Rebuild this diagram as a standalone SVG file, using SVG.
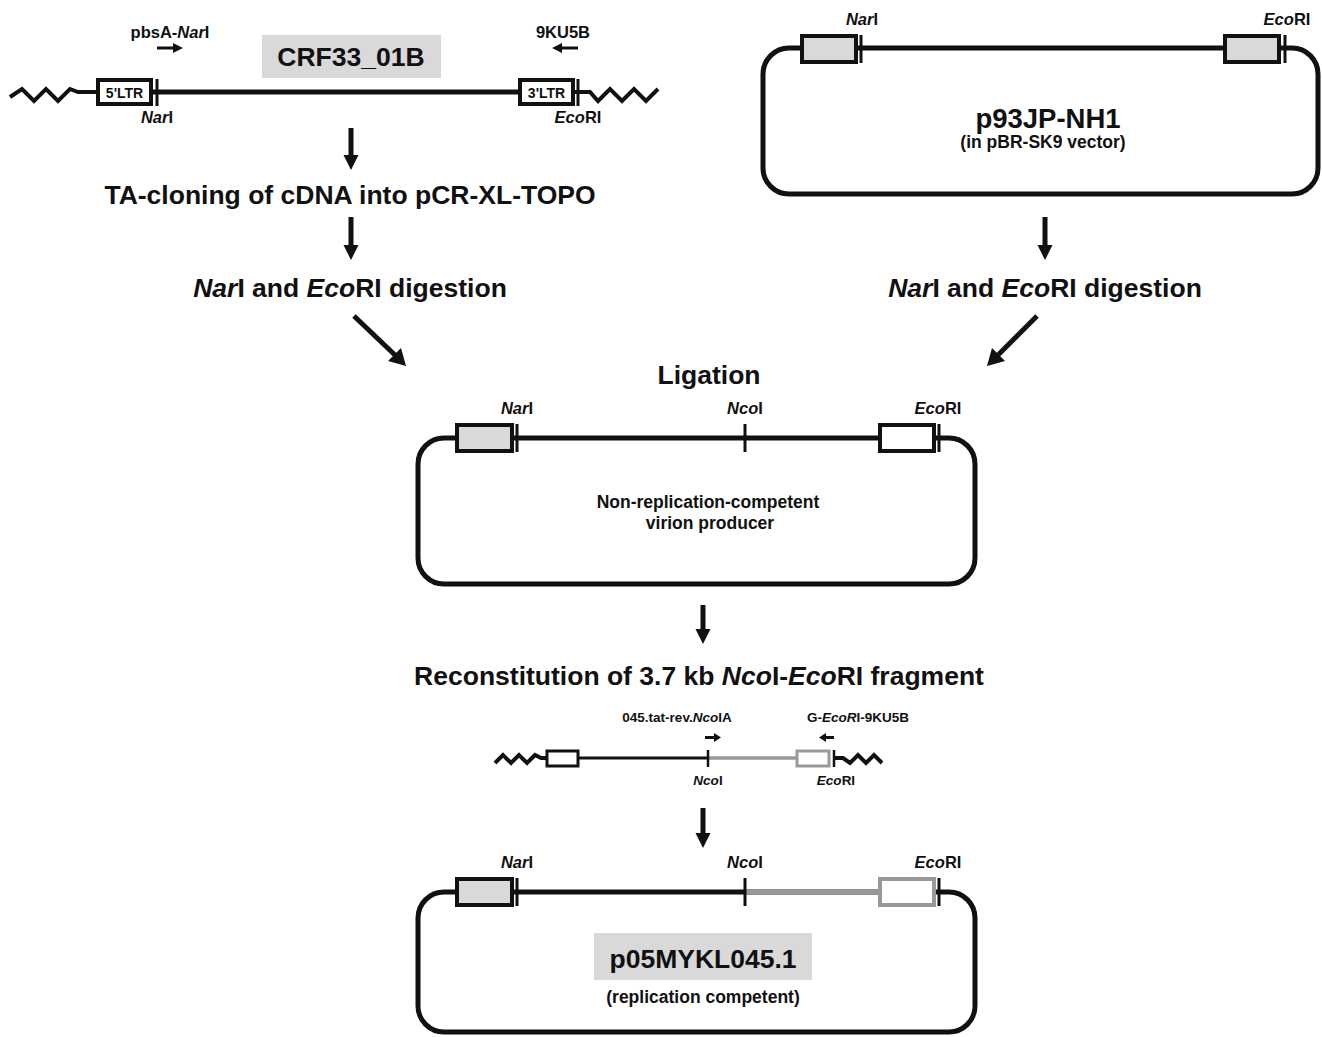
<svg xmlns="http://www.w3.org/2000/svg" width="1322" height="1037" viewBox="0 0 1322 1037">
<defs>
<style>
text{font-family:"Liberation Sans",Arial,sans-serif;font-weight:bold;fill:#111;text-anchor:middle}
.it{font-style:italic}
.big{font-size:26.5px}
.mid{font-size:17.5px}
.sub{font-size:17.5px}
.sm{font-size:16.5px}
.xs{font-size:13.5px}
.ln{stroke:#111;stroke-width:5;fill:none}
.gl{stroke:#999;stroke-width:5;fill:none}
.zz{stroke:#111;stroke-width:4;fill:none;stroke-linejoin:miter}
.bxg{fill:#d9d9d9;stroke:#111;stroke-width:4}
.bxw{fill:#fff;stroke:#111;stroke-width:4}
.bxgg{fill:#fff;stroke:#999;stroke-width:4}
.tk{stroke:#111;stroke-width:3}
.ar{fill:#111}
</style>
</defs>

<g id="crf33-genome">
<path class="zz" d="M10,97 L22,89 L34,101 L46,89 L58,101 L70,89 L78,92 L97,92"/>
<line class="ln" x1="152" y1="92" x2="520" y2="92"/>
<rect class="bxw" x="98" y="80" width="53" height="24"/>
<text x="124.5" y="97.5" font-size="14px">5'LTR</text>
<line class="tk" x1="157" y1="79" x2="157" y2="106"/>
<rect class="bxw" x="520" y="80" width="53" height="24"/>
<text x="546.5" y="97.5" font-size="14px">3'LTR</text>
<line class="tk" x1="578" y1="79" x2="578" y2="106"/>
<path class="zz" d="M573,92 L590,92 L598,101 L610,89 L622,101 L634,89 L646,101 L658,89"/>
<text class="sm" x="170" y="38">pbsA-<tspan class="it">Nar</tspan>I</text>
<path class="ar" d="M157,46.5 L173,46.5 L173,43 L183,48 L173,53 L173,49.5 L157,49.5 Z"/>
<text class="sm" x="563" y="38">9KU5B</text>
<path class="ar" d="M578,46.5 L562,46.5 L562,43 L552,48 L562,53 L562,49.5 L578,49.5 Z"/>
<text class="sm it" x="157" y="123">Nar<tspan font-style="normal">I</tspan></text>
<text class="sm" x="578" y="123"><tspan class="it">Eco</tspan>RI</text>
<rect x="262" y="35" width="179" height="43" fill="#d9d9d9"/>
<text x="351" y="66" font-size="26.5px">CRF33_01B</text>
</g>

<g id="p93JP-NH1">
<rect class="ln" x="763" y="48" width="555" height="146" rx="26"/>
<rect class="bxg" x="802" y="36" width="54" height="26"/>
<line class="tk" x1="861" y1="35" x2="861" y2="63"/>
<rect class="bxg" x="1225" y="36" width="54" height="26"/>
<line class="tk" x1="1285" y1="35" x2="1285" y2="63"/>
<text class="sm it" x="862" y="25">Nar<tspan font-style="normal">I</tspan></text>
<text class="sm" x="1287" y="25"><tspan class="it">Eco</tspan>RI</text>
<text x="1048" y="128" font-size="27.5px">p93JP-NH1</text>
<text class="sub" x="1043" y="148">(in pBR-SK9 vector)</text>
</g>

<g id="step-ta">
<text class="big" x="350" y="204">TA-cloning of cDNA into pCR-XL-TOPO</text>
</g>
<g id="step-digest-left">
<text class="big" x="350" y="297"><tspan class="it">Nar</tspan>I and <tspan class="it">Eco</tspan>RI digestion</text>
</g>
<g id="step-digest-right">
<text class="big" x="1045" y="297"><tspan class="it">Nar</tspan>I and <tspan class="it">Eco</tspan>RI digestion</text>
</g>
<g id="step-ligation">
<text class="big" x="709" y="384">Ligation</text>
</g>

<g id="ligation-plasmid">
<rect class="ln" x="418" y="438" width="557" height="146" rx="26"/>
<rect class="bxg" x="457" y="425" width="55" height="26"/>
<line class="tk" x1="517" y1="424" x2="517" y2="452"/>
<line class="tk" x1="745" y1="424" x2="745" y2="452"/>
<rect class="bxw" x="880" y="425" width="54" height="26"/>
<line class="tk" x1="939" y1="424" x2="939" y2="452"/>
<text class="sm it" x="517" y="414">Nar<tspan font-style="normal">I</tspan></text>
<text class="sm" x="745" y="414"><tspan class="it">Nco</tspan>I</text>
<text class="sm" x="938" y="414"><tspan class="it">Eco</tspan>RI</text>
<text class="mid" x="708" y="508">Non-replication-competent</text>
<text class="mid" x="710" y="529">virion producer</text>
</g>

<g id="step-reconstitution">
<text class="big" x="699" y="685">Reconstitution of 3.7 kb <tspan class="it">Nco</tspan>I-<tspan class="it">Eco</tspan>RI fragment</text>
</g>

<g id="fragment">
<path class="zz" d="M495,763 L503,755 L511,763 L519,755 L527,763 L535,755 L541,758 L547,758" stroke-width="3"/>
<line x1="578" y1="758" x2="708" y2="758" stroke="#111" stroke-width="3"/>
<line x1="708" y1="758" x2="797" y2="758" stroke="#999" stroke-width="3.5"/>
<rect x="547" y="751" width="31" height="15" fill="#fff" stroke="#111" stroke-width="3"/>
<rect x="797" y="751" width="32" height="15" fill="#fff" stroke="#999" stroke-width="3"/>
<line x1="708" y1="750" x2="708" y2="767" stroke="#111" stroke-width="2.5"/>
<line x1="834" y1="750" x2="834" y2="767" stroke="#111" stroke-width="2.5"/>
<path class="zz" d="M834,758 L843,758 L850,763 L858,755 L866,763 L874,755 L882,763" stroke-width="3"/>
<text class="xs" x="677" y="722">045.tat-rev.<tspan class="it">Nco</tspan>IA</text>
<path class="ar" d="M705,736 L714,736 L714,733 L721,737.5 L714,742 L714,739 L705,739 Z"/>
<text class="xs" x="858" y="722">G-<tspan class="it">EcoR</tspan>I-9KU5B</text>
<path class="ar" d="M834,736 L826,736 L826,733 L819,737.5 L826,742 L826,739 L834,739 Z"/>
<text class="xs" x="708" y="785"><tspan class="it">Nco</tspan>I</text>
<text class="xs" x="836" y="785"><tspan class="it">Eco</tspan>RI</text>
</g>

<g id="p05MYKL045.1">
<rect class="ln" x="418" y="892" width="557" height="140" rx="26"/>
<line class="gl" x1="745" y1="892" x2="882" y2="892"/>
<rect class="bxg" x="457" y="879" width="55" height="26"/>
<line class="tk" x1="517" y1="878" x2="517" y2="906"/>
<line class="tk" x1="745" y1="878" x2="745" y2="906"/>
<rect class="bxgg" x="880" y="879" width="54" height="26"/>
<line class="tk" x1="939" y1="878" x2="939" y2="906"/>
<text class="sm it" x="517" y="868">Nar<tspan font-style="normal">I</tspan></text>
<text class="sm" x="745" y="868"><tspan class="it">Nco</tspan>I</text>
<text class="sm" x="938" y="868"><tspan class="it">Eco</tspan>RI</text>
<rect x="594" y="933" width="218" height="47" fill="#d9d9d9"/>
<text x="703" y="968" font-size="26.5px">p05MYKL045.1</text>
<text class="sub" x="703" y="1003">(replication competent)</text>
</g>

<g id="connectors">
<path class="ar" d="M348.5,128 L353.5,128 L353.5,155 L358.5,155 L351,170 L343.5,155 L348.5,155 Z"/>
<path class="ar" d="M348.5,217 L353.5,217 L353.5,245 L358.5,245 L351,260 L343.5,245 L348.5,245 Z"/>
<path class="ar" d="M1042.5,217 L1047.5,217 L1047.5,245 L1052.5,245 L1045,260 L1037.5,245 L1042.5,245 Z"/>
<path class="ar" d="M700.5,605 L705.5,605 L705.5,629 L710.5,629 L703,644 L695.5,629 L700.5,629 Z"/>
<path class="ar" d="M700.5,808 L705.5,808 L705.5,833 L710.5,833 L703,848 L695.5,833 L700.5,833 Z"/>
<line x1="354" y1="316" x2="396" y2="356" stroke="#111" stroke-width="5"/>
<path class="ar" d="M406,366 L388,361 L401,348 Z"/>
<line x1="1037" y1="316" x2="997" y2="356" stroke="#111" stroke-width="5"/>
<path class="ar" d="M987,366 L992,348 L1005,361 Z"/>
</g>
</svg>
